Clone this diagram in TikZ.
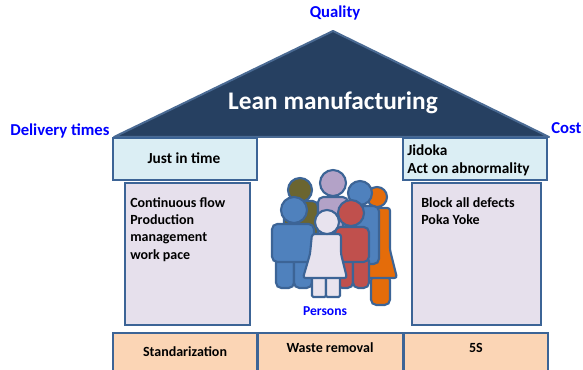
\documentclass[tikz,border=0pt]{standalone}
\usepackage{fontspec}
\setmainfont{Carlito}
\definecolor{roofblue}{HTML}{264061}
\definecolor{roofedge}{HTML}{4A6A93}
\definecolor{edgeblue}{HTML}{3C6496}
\definecolor{lightcyan}{HTML}{DBEEF4}
\definecolor{lavender}{HTML}{E6E0EC}
\definecolor{peach}{HTML}{FBD5B5}
\definecolor{pOlive}{HTML}{6B6530}
\definecolor{pLilac}{HTML}{B3A2C7}
\definecolor{pBlue}{HTML}{4F81BD}
\definecolor{pOrange}{HTML}{E46C0A}
\definecolor{pRed}{HTML}{C0504D}
\definecolor{pWhite}{HTML}{E8E3EE}
\begin{document}
\begin{tikzpicture}[x=0.75pt,y=-0.75pt,
  boxline/.style={draw=edgeblue,line width=1.8pt},
  label/.style={text=blue,font=\bfseries\fontsize{12.5}{14}\selectfont,inner sep=0},
  beamtext/.style={font=\bfseries\fontsize{11.5}{13.5}\selectfont,inner sep=0,text=black},
  boxtext/.style={font=\bfseries\fontsize{10.5}{13}\selectfont,inner sep=0,text=black},
  figure/.style={draw=edgeblue,line width=1.6pt,rounded corners=4pt}]
\useasboundingbox (0,0) rectangle (583,370);
\clip (0,0) rectangle (583,370);

% roof
\draw[fill=roofblue,draw=roofedge,line width=1.5pt,line join=round]
  (114,137) -- (333,31) -- (549,137) -- cycle;
\node[text=white,font=\bfseries\fontsize{19}{21}\selectfont] (lean) at (333,103) {Lean manufacturing};

% corner labels
\node[label,anchor=base] (quality) at (335,18) {Quality};
\node[label,anchor=base west] (delivery) at (10,136) {Delivery times};
\node[label,anchor=base west] (cost) at (551,134) {Cost};

% beams under the roof
\draw[boxline,fill=lightcyan] (113,138) rectangle (257,180);
\node[beamtext] (jit) at (184,158) {Just in time};
\draw[boxline,fill=lightcyan] (403,138) rectangle (547,180);
\node[beamtext,anchor=base west] (jidoka) at (407,156) {Jidoka};
\node[beamtext,anchor=base west] (act) at (407,174) {Act on abnormality};

% pillars
\draw[boxline,fill=lavender] (125,183) rectangle (250,325);
\node[boxtext,anchor=north west,align=left] (flow) at (130,197)
  {Continuous flow\\Production\\management\\work pace};
\draw[boxline,fill=lavender] (412,183) rectangle (541,325);
\node[boxtext,anchor=north west,align=left] (block) at (421,197)
  {Block all defects\\Poka Yoke};

% foundation
\draw[boxline,fill=peach] (113,333) rectangle (257,375);
\draw[boxline,fill=peach] (258,333) rectangle (403,375);
\draw[boxline,fill=peach] (404,333) rectangle (548,375);
\node[boxtext] (std) at (185,352) {Standarization};
\node[boxtext] (waste) at (330,348) {Waste removal};
\node[boxtext] (fives) at (476,348) {5S};

% group of people, back row first
% olive
\draw[figure,fill=pOlive] (284,201) rectangle (318,242);
\draw[figure,fill=pOlive] (300,190) circle (12);
% lilac
\draw[figure,fill=pLilac] (318,197) rectangle (348,240);
\draw[figure,fill=pLilac] (333,183) circle (13);
% orange
\draw[figure,fill=pOrange] (371,275) rectangle (390,305);
\draw[figure,fill=pOrange,rounded corners=2pt] (366,208) -- (390,208) -- (390,250) -- (397,278) -- (359,278) -- (364,250) -- cycle;
\draw[figure,fill=pOrange] (377,197) circle (10);
% blue, back right
\draw[figure,fill=pBlue] (343,206) rectangle (379,264);
\draw[figure,fill=pBlue] (360,193) circle (12);
% blue, front left
\draw[figure,fill=pBlue] (276,256) rectangle (294,288);
\draw[figure,fill=pBlue] (294,256) rectangle (312,288);
\draw[figure,fill=pBlue] (272,224) rectangle (314,262);
\draw[figure,fill=pBlue] (294,210) circle (13);
% red, front right
\draw[figure,fill=pRed] (337,256) rectangle (353,288);
\draw[figure,fill=pRed] (353,256) rectangle (369,288);
\draw[figure,fill=pRed] (335,227) rectangle (369,262);
\draw[figure,fill=pRed] (351,213) circle (13);
% white, front
\draw[figure,fill=pWhite,rounded corners=1pt] (312,276) rectangle (326,297);
\draw[figure,fill=pWhite,rounded corners=1pt] (326,276) rectangle (340,297);
\draw[figure,fill=pWhite,rounded corners=2pt] (312,234) -- (341,234) -- (341,254) -- (347,278) -- (303,278) -- (310,254) -- cycle;
\draw[figure,fill=pWhite] (327,222) circle (12);

\node[label,font=\bfseries\fontsize{10.2}{12}\selectfont] (persons) at (325,311) {Persons};
\end{tikzpicture}
\end{document}
